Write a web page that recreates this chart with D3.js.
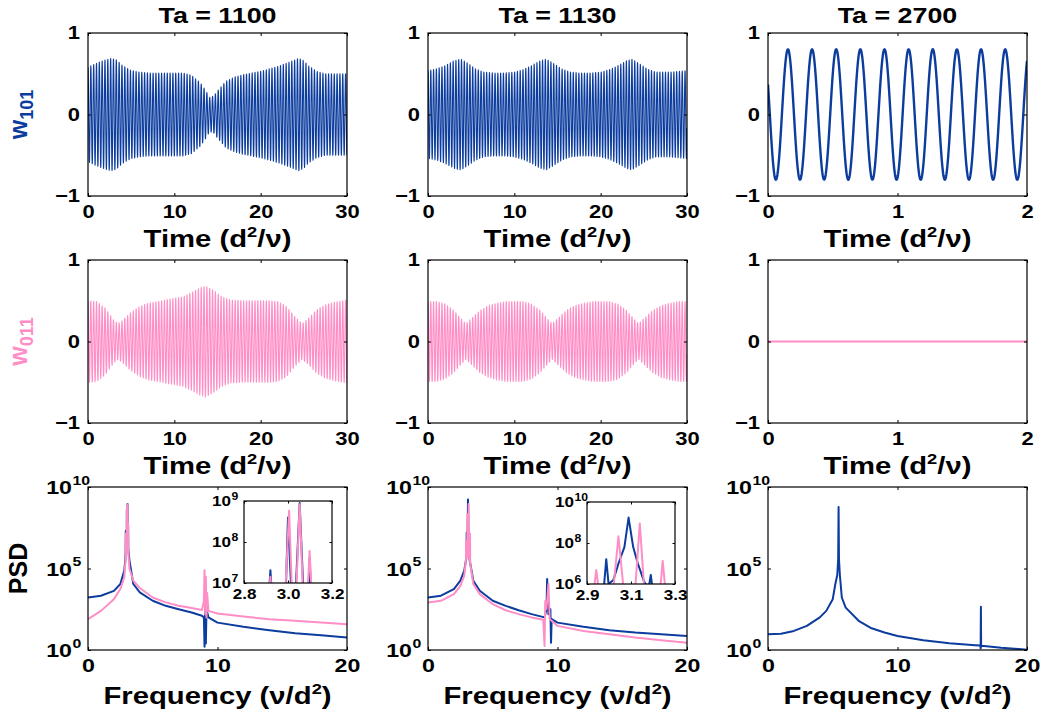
<!DOCTYPE html>
<html><head><meta charset="utf-8">
<script src="https://cdn.jsdelivr.net/npm/d3@7"></script>
<style>
body{margin:0;background:#fff}
svg text{font-family:"Liberation Sans",Arial,Helvetica,sans-serif;font-weight:bold;fill:#000}
</style>
</head><body>
<svg id="c" width="1042" height="715"></svg>
<script>
// ---------------- DATA ----------------
const BLUE = "#0b3c9e", PINK = "#ff8dc6";
const titles = ["Ta = 1100", "Ta = 1130", "Ta = 2700"];
const timeTicksLong = [0, 10, 20, 30];
const timeTicksShort = [0, 1, 2];
const ampTicks = [-1, 0, 1];
const freqTicks = [0, 10, 20];
const psdExpTicks = [0, 5, 10];
const inset1XTicks = [2.8, 3.0, 3.2], inset1YExp = [7, 8, 9];
const inset2XTicks = [2.9, 3.1, 3.3], inset2YExp = [6, 8, 10];

// amplitude envelopes [time, amplitude]
const w101Env1100 = [[0,0.58],[1,0.63],[2,0.67],[2.7,0.69],[3.3,0.67],[4,0.6],[5,0.54],[6,0.52],[7,0.51],[9,0.51],[11,0.51],[12,0.48],[13,0.39],[13.6,0.3],[14.1,0.21],[14.6,0.23],[15,0.29],[16,0.41],[17,0.46],[18,0.49],[20,0.53],[22,0.59],[23.5,0.65],[24.4,0.69],[25,0.66],[25.5,0.6],[26.5,0.53],[27.5,0.5],[30,0.5]];
const w101Env1130 = [[0,0.54],[1,0.56],[2,0.6],[3,0.66],[3.8,0.68],[4.6,0.63],[5.5,0.56],[6.5,0.52],[7.5,0.51],[9,0.51],[10,0.52],[11,0.55],[12,0.6],[13,0.66],[13.7,0.68],[14.5,0.63],[15.5,0.56],[16.5,0.52],[17.5,0.51],[19,0.51],[20,0.52],[21,0.55],[22,0.6],[23,0.66],[23.6,0.68],[24.4,0.63],[25.4,0.56],[26.4,0.52],[28,0.52],[30,0.54]];
const w011Env1100 = [[0,0.5],[1,0.49],[2,0.41],[3,0.26],[3.5,0.22],[4,0.26],[5,0.36],[6,0.43],[7,0.47],[8,0.49],[10,0.53],[11,0.55],[12,0.6],[13,0.66],[13.6,0.68],[14.5,0.63],[15.5,0.55],[16.5,0.51],[18,0.5],[21,0.5],[22,0.49],[23,0.43],[24,0.3],[24.8,0.22],[25.5,0.28],[26.5,0.39],[27.5,0.45],[28.5,0.48],[30,0.51]];
const w011Env1130 = [[0,0.49],[1,0.49],[2,0.46],[3,0.38],[4,0.26],[4.4,0.22],[5,0.28],[6,0.38],[7,0.44],[8,0.47],[9,0.49],[11,0.49],[12,0.46],[13,0.38],[14,0.26],[14.4,0.22],[15,0.28],[16,0.38],[17,0.44],[18,0.47],[19,0.49],[21,0.49],[22,0.46],[23,0.38],[24,0.26],[24.4,0.22],[25,0.28],[26,0.38],[27,0.44],[28,0.47],[29,0.49],[30,0.49]];
const carrier1100 = 3.05, carrier1130 = 3.09;          // dominant frequency (PSD peak)
const amp2700 = 0.8, period2700 = 0.1864, firstPeak2700 = 0.154;
const w011Level2700 = [[0, 0], [2, 0]];

// PSD curves [frequency, log10(PSD)]
const psdBlue1100 = [[0,3.22],[1,3.33],[2,3.63],[2.5,4.05],[2.8,4.87],[2.88,5.5],[2.905,6.0],[2.92,7.31],[2.935,6.0],[2.98,6.2],[2.99,6.8],[3.0,8.6],[3.015,6.8],[3.035,6.8],[3.053,8.95],[3.07,6.8],[3.09,6.2],[3.098,7.6],[3.11,6.2],[3.2,5.5],[3.5,4.05],[4,3.53],[5,3.02],[6,2.71],[7,2.5],[8,2.3],[8.8,2.1],[8.95,2.0],[9.0,0.2],[9.05,2.9],[9.1,0.4],[9.15,2.5],[9.3,2.0],[10,1.68],[12,1.42],[14,1.21],[16,1.03],[18,0.9],[20,0.76]];
const psdPink1100 = [[0,1.89],[1,2.4],[2,3.12],[2.5,3.74],[2.8,4.46],[2.9,5.5],[2.92,7.15],[2.94,5.8],[2.985,6.5],[3.005,8.76],[3.02,6.5],[3.035,6.5],[3.053,8.92],[3.07,6.5],[3.085,6.3],[3.098,7.78],[3.115,6.0],[3.2,5.0],[3.5,4.25],[4,3.8],[5,3.22],[6,2.92],[7,2.71],[8,2.57],[8.8,2.45],[8.95,3.0],[9.0,4.9],[9.05,2.2],[9.1,4.5],[9.15,2.0],[9.2,3.5],[9.3,2.4],[10,2.24],[12,2.05],[14,1.89],[16,1.79],[18,1.68],[20,1.58]];
const psdBlue1130 = [[0,3.22],[1,3.33],[2,3.74],[2.5,4.25],[2.8,4.87],[2.95,5.6],[2.978,6.0],[2.9875,7.21],[2.998,6.0],[3.02,6.2],[3.043,7.0],[3.07,7.8],[3.089,9.24],[3.11,7.8],[3.131,7.0],[3.16,6.1],[3.18,5.8],[3.19,6.44],[3.2,5.6],[3.5,4.25],[4,3.63],[5,3.02],[6,2.71],[7,2.44],[8,2.2],[9,2.0],[9.15,2.5],[9.2,4.35],[9.3,2.2],[9.45,2.5],[9.5,0.45],[9.55,1.9],[10,1.68],[12,1.42],[14,1.21],[16,1.07],[18,0.97],[20,0.86]];
const psdPink1130 = [[0,2.92],[1,3.02],[2,3.43],[2.5,3.94],[2.8,4.56],[2.9,5.3],[2.93,5.6],[2.942,6.68],[2.955,5.6],[3.02,5.8],[3.043,8.33],[3.065,5.9],[3.12,5.9],[3.14,8.95],[3.16,5.8],[3.23,5.4],[3.244,7.13],[3.26,5.3],[3.5,4.05],[4,3.43],[5,2.81],[6,2.44],[7,2.2],[8,2.0],[8.9,1.85],[9.0,0.25],[9.05,3.0],[9.15,2.5],[9.3,4.05],[9.4,1.9],[10,1.48],[12,1.17],[14,0.97],[16,0.76],[18,0.6],[20,0.45]];
const psdBlue2700 = [[0,0.97],[1,1.0],[2,1.17],[3,1.48],[4,2.0],[4.5,2.4],[5,3.12],[5.2,4.05],[5.35,4.6],[5.42,5.6],[5.45,8.77],[5.48,5.6],[5.55,4.6],[5.7,3.22],[6,2.6],[7,1.79],[8,1.33],[9,1.07],[10,0.86],[12,0.6],[14,0.41],[16,0.29],[16.4,0.27],[16.42,0.1],[16.44,2.65],[16.46,0.2],[16.5,0.26],[18,0.14],[20,0.02]];

// ---------------- LAYOUT ----------------
const colX = [88, 428, 768], rowY = [33, 260, 487], PW = 259, PH = 163;
const FONT = '"Liberation Sans",Arial,Helvetica,sans-serif';
const HS = 1.22;   // horizontal widening of the original (wide) bold font
const svg = d3.select("#c");
let clipId = 0;

function clip(g, w, h) {
  const id = "clip" + (clipId++);
  g.append("clipPath").attr("id", id).append("rect").attr("width", w).attr("height", h);
  return "url(#" + id + ")";
}

// widen horizontally-set text in place (keeps its anchor position)
function widen(sel) {
  sel.each(function () {
    const t = d3.select(this);
    const x = +(t.attr("x") || 0);
    t.attr("x", x / HS).attr("transform", `scale(${HS},1)`);
  });
}

function styleAxis(a, fs) {
  a.attr("font-family", FONT).attr("font-size", fs).attr("font-weight", "bold");
  a.selectAll(".domain").remove();
  a.selectAll(".tick line").attr("stroke", "#000").attr("stroke-width", 1);
  a.selectAll(".tick text").attr("fill", "#000");
}

function axes(g, x, y, w, h, xTicks, yTicks, o) {
  const tl = o.tl || 3, fs = o.fs || 18;
  const b = g.append("g").attr("transform", `translate(0,${h})`)
    .call(d3.axisBottom(x).tickValues(xTicks).tickSizeInner(-tl).tickSizeOuter(0).tickPadding(o.xpad || 9).tickFormat(o.xfmt || d3.format("d")));
  styleAxis(b, fs);
  widen(b.selectAll(".tick text"));
  const t = g.append("g").call(d3.axisTop(x).tickValues(xTicks).tickSizeInner(-tl).tickSizeOuter(0).tickFormat(""));
  styleAxis(t, fs);
  const r = g.append("g").attr("transform", `translate(${w},0)`).call(d3.axisRight(y).tickValues(yTicks).tickSizeInner(-tl).tickSizeOuter(0).tickFormat(""));
  styleAxis(r, fs);
  const l = g.append("g").call(d3.axisLeft(y).tickValues(yTicks).tickSizeInner(-tl).tickSizeOuter(0).tickPadding(o.ypad || 8)
    .tickFormat(o.ylog ? "" : (v => v < 0 ? "\u2212" + Math.abs(v) : String(v))));
  styleAxis(l, fs);
  if (!o.ylog) widen(l.selectAll(".tick text"));
  if (o.ylog) {
    l.selectAll(".tick text").remove();
    const sfs = o.sfs || 13, off = o.logOff || 16;
    l.selectAll(".tick").each(function (v) {
      const tk = d3.select(this);
      tk.append("text").attr("x", -off).attr("dy", "0.35em").attr("text-anchor", "end")
        .attr("font-size", fs).attr("fill", "#000").text("10");
      tk.append("text").attr("x", -off + 0.5).attr("y", -(o.supRaise || 2)).attr("text-anchor", "start")
        .attr("font-size", sfs).attr("fill", "#000").text(Math.round(Math.log10(v)));
      widen(tk.selectAll("text"));
    });
  }
  g.append("rect").attr("width", w).attr("height", h).attr("fill", "none").attr("stroke", "#000").attr("stroke-width", 1.2);
}

function envInterp(env) {
  return d3.scaleLinear().domain(env.map(d => d[0])).range(env.map(d => d[1])).clamp(true);
}

function oscillation(env, f, t0, t1) {
  const e = envInterp(env), pts = [], n = Math.ceil((t1 - t0) * f * 24);
  for (let i = 0; i <= n; i++) {
    const t = t0 + (t1 - t0) * i / n;
    pts.push([t, e(t) * Math.cos(2 * Math.PI * f * t)]);
  }
  return pts;
}

function sine2700() {
  const pts = [], n = 800;
  for (let i = 0; i <= n; i++) {
    const t = 2 * i / n;
    pts.push([t, amp2700 * Math.cos(2 * Math.PI * (t - firstPeak2700) / period2700)]);
  }
  return pts;
}

function xLabel(cx, y, main, sup, tail) {
  const g = svg.append("g").attr("transform", `translate(${cx},${y}) scale(${HS},1)`);
  const t = g.append("text").attr("text-anchor", "middle").attr("font-size", 24);
  t.append("tspan").text(main);
  t.append("tspan").attr("dy", -10).attr("font-size", 15).text(sup);
  t.append("tspan").attr("dy", 10).text(tail);
}

// ---------------- TIME SERIES ROWS ----------------
const tsPanels = [
  { r: 0, c: 0, data: oscillation(w101Env1100, carrier1100, 0, 30), xmax: 30, ticks: timeTicksLong, color: BLUE, lw: 1.1 },
  { r: 0, c: 1, data: oscillation(w101Env1130, carrier1130, 0, 30), xmax: 30, ticks: timeTicksLong, color: BLUE, lw: 1.1 },
  { r: 0, c: 2, data: sine2700(), xmax: 2, ticks: timeTicksShort, color: BLUE, lw: 2.4 },
  { r: 1, c: 0, data: oscillation(w011Env1100, carrier1100, 0, 30), xmax: 30, ticks: timeTicksLong, color: PINK, lw: 1.1 },
  { r: 1, c: 1, data: oscillation(w011Env1130, carrier1130, 0, 30), xmax: 30, ticks: timeTicksLong, color: PINK, lw: 1.1 },
  { r: 1, c: 2, data: w011Level2700, xmax: 2, ticks: timeTicksShort, color: PINK, lw: 2.2 }
];

tsPanels.forEach(p => {
  const g = svg.append("g").attr("transform", `translate(${colX[p.c]},${rowY[p.r]})`);
  const x = d3.scaleLinear().domain([0, p.xmax]).range([0, PW]);
  const y = d3.scaleLinear().domain([-1, 1]).range([PH, 0]);
  const cp = clip(g, PW, PH);
  g.append("path").datum(p.data).attr("clip-path", cp)
    .attr("d", d3.line().x(d => x(d[0])).y(d => y(d[1])))
    .attr("fill", "none").attr("stroke", p.color).attr("stroke-width", p.lw).attr("stroke-linejoin", "round");
  axes(g, x, y, PW, PH, p.ticks, ampTicks, { fs: 18 });
  xLabel(colX[p.c] + PW / 2, rowY[p.r] + PH + 51, "Time (d", "2", "/\u03bd)");
});

// titles
titles.forEach((t, i) => {
  svg.append("g").attr("transform", `translate(${colX[i] + PW / 2},23) scale(${HS},1)`)
    .append("text").attr("text-anchor", "middle").attr("font-size", 22).text(t);
});

// y labels
function yLabel(cy, main, sub, color) {
  const t = svg.append("text").attr("transform", `translate(27,${cy}) rotate(-90)`).attr("text-anchor", "middle")
    .attr("font-size", 25).style("fill", color);
  t.append("tspan").text(main);
  if (sub) t.append("tspan").attr("dy", 6).attr("font-size", 18).text(sub);
}
yLabel(rowY[0] + PH / 2, "w", "101", BLUE);
yLabel(rowY[1] + PH / 2, "w", "011", PINK);
yLabel(rowY[2] + PH / 2, "PSD", null, "#000");

// ---------------- PSD ROW ----------------
const psdPanels = [
  { c: 0, curves: [[psdBlue1100, BLUE], [psdPink1100, PINK]],
    inset: { x: 244, y: 501, w: 88, h: 82, xd: [2.8, 3.2], ye: [7, 9], xt: inset1XTicks, yt: inset1YExp } },
  { c: 1, curves: [[psdBlue1130, BLUE], [psdPink1130, PINK]],
    inset: { x: 587, y: 502, w: 88, h: 82, xd: [2.9, 3.3], ye: [6, 10], xt: inset2XTicks, yt: inset2YExp } },
  { c: 2, curves: [[psdBlue2700, BLUE]], inset: null }
];

psdPanels.forEach(p => {
  const g = svg.append("g").attr("transform", `translate(${colX[p.c]},${rowY[2]})`);
  const x = d3.scaleLinear().domain([0, 20]).range([0, PW]);
  const y = d3.scaleLog().domain([1, 1e10]).range([PH, 0]);
  const cp = clip(g, PW, PH);
  p.curves.forEach(([data, col]) => {
    g.append("path").datum(data).attr("clip-path", cp)
      .attr("d", d3.line().x(d => x(d[0])).y(d => y(Math.pow(10, d[1]))))
      .attr("fill", "none").attr("stroke", col).attr("stroke-width", 2).attr("stroke-linejoin", "round");
  });
  axes(g, x, y, PW, PH, freqTicks, psdExpTicks.map(e => Math.pow(10, e)), { fs: 19, ylog: true, sfs: 13, logOff: 16, supRaise: 3 });
  xLabel(colX[p.c] + PW / 2, rowY[2] + PH + 54, "Frequency (\u03bd/d", "2", ")");

  if (p.inset) {
    const s = p.inset;
    const ig = svg.append("g").attr("transform", `translate(${s.x},${s.y})`);
    ig.append("rect").attr("width", s.w).attr("height", s.h).attr("fill", "#fff");
    const ix = d3.scaleLinear().domain(s.xd).range([0, s.w]);
    const iy = d3.scaleLog().domain([Math.pow(10, s.ye[0]), Math.pow(10, s.ye[1])]).range([s.h, 0]);
    const icp = clip(ig, s.w, s.h);
    p.curves.forEach(([data, col]) => {
      ig.append("path").datum(data).attr("clip-path", icp)
        .attr("d", d3.line().x(d => ix(d[0])).y(d => iy(Math.pow(10, d[1]))))
        .attr("fill", "none").attr("stroke", col).attr("stroke-width", 2).attr("stroke-linejoin", "round");
    });
    axes(ig, ix, iy, s.w, s.h, s.xt, s.yt.map(e => Math.pow(10, e)),
      { fs: 14, ylog: true, sfs: 10, logOff: 13, supRaise: 2, xpad: 6, xfmt: d3.format(".1f"), tl: 2.5 });
  }
});
</script>
</body></html>
